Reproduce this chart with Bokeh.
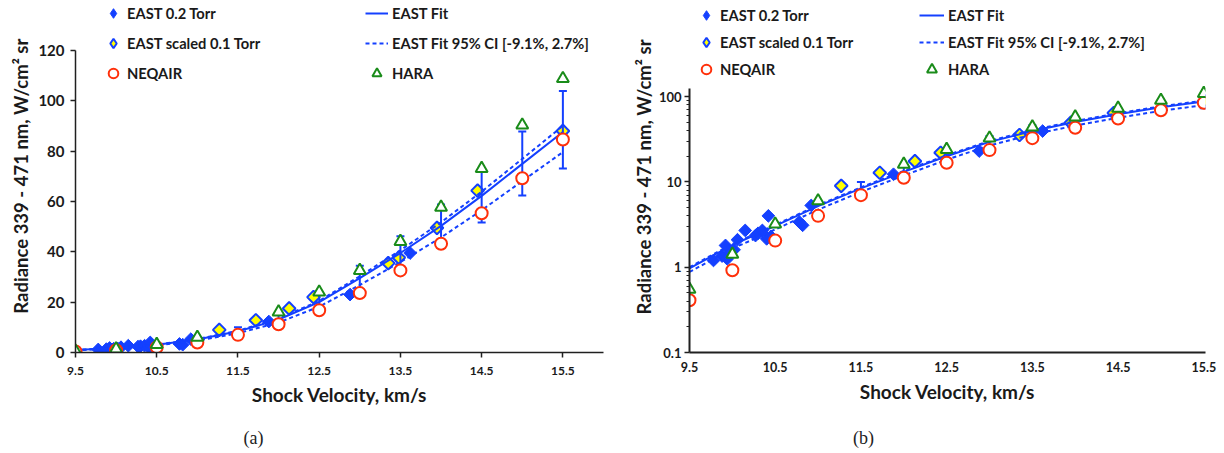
import numpy as np
from bokeh.plotting import figure
from bokeh.models import (Range1d, FixedTicker, Legend, LegendItem,
                          CustomJSTickFormatter)
from bokeh.core.properties import value
from bokeh.layouts import row, column
from bokeh.embed import file_html
from bokeh.resources import INLINE

# ---------------- data ----------------
east02_v = [9.78, 9.88, 9.92, 9.94, 9.97, 10.02, 10.06, 10.15, 10.27, 10.30,
            10.35, 10.40, 10.42, 10.45, 10.78, 10.82, 10.92, 11.88, 12.88, 13.62]
east02_r = [1.2, 1.35, 1.8, 1.25, 1.5, 1.6, 2.1, 2.7, 2.35, 2.5,
            2.7, 2.15, 4.0, 2.3, 3.4, 3.1, 5.3, 12.3, 23.0, 39.5]

scaled01_v = [11.27, 11.72, 12.13, 12.43, 13.35, 13.48, 13.95, 14.45, 15.5]
scaled01_r = [9.0, 12.8, 17.5, 22.0, 35.5, 37.7, 49.5, 64.3, 88.0]

neqair_v = [9.5, 10.0, 10.5, 11.0, 11.5, 12.0, 12.5, 13.0, 13.5, 14.0, 14.5, 15.0, 15.5]
neqair_r = [0.41, 0.92, 2.05, 4.0, 7.0, 11.2, 16.8, 23.6, 32.6, 43.2, 55.3, 69.2, 84.6]

hara_v = [9.5, 10.0, 10.5, 11.0, 12.0, 12.5, 13.0, 13.5, 14.0, 14.5, 15.0, 15.5]
hara_r = [0.55, 1.42, 3.2, 6.0, 16.1, 24.0, 32.6, 44.1, 57.7, 73.1, 90.3, 108.8]

fit_v = [9.5, 10.0, 10.5, 11.0, 11.5, 12.0, 12.5, 13.0, 13.5, 14.0, 14.5, 15.0, 15.5]
fit_r = [0.97, 1.82, 3.05, 5.2, 8.4, 13.1, 20.0, 29.5, 39.5, 50.3, 62.2, 74.9, 87.6]
fit_hi = [1.0, 1.87, 3.13, 5.34, 8.63, 13.45, 20.5, 30.3, 40.6, 51.7, 63.9, 76.9, 90.0]
fit_lo = [0.88, 1.65, 2.77, 4.73, 7.64, 11.9, 18.2, 26.8, 35.9, 45.7, 56.5, 68.1, 79.6]

err_v = [11.5, 12.0, 12.5, 13.0, 13.5, 14.0, 14.5, 15.0, 15.5]
err_lo = [7.0, 10.9, 16.6, 24.5, 32.8, 41.8, 51.6, 62.4, 73.1]
err_hi = [10.0, 15.3, 23.4, 34.5, 46.2, 58.8, 72.5, 87.8, 103.9]

x_ticks = [9.5, 10.5, 11.5, 12.5, 13.5, 14.5, 15.5]
lin_y_ticks = [0, 20, 40, 60, 80, 100, 120]
log_y_ticks = [0.1, 1, 10, 100]
log_minor = [m * d for d in (0.1, 1, 10) for m in range(2, 10)]

BLUE = "#1440ff"
RED = "#ff300a"
GREEN = "#1a8c1a"
YELLOW = "#ffff00"
FONT = "Lato"
TXT = "#1a1a1a"
YLABEL = "Radiance 339 - 471 nm, W/cm\u00b2 sr"
XLABEL = "Shock Velocity, km/s"

MAIN_H = 413   # height of the plot figures; a caption strip of 40 px sits below
CAP_H = 40
YLAB_WA = 35   # narrow strips that hold the rotated y-axis titles
YLAB_WB = 43


def style_axes(p, ytick_size, xtick_size, x_tick_out):
    p.outline_line_color = None
    p.xgrid.visible = False
    p.ygrid.visible = False
    for ax in (p.xaxis[0], p.yaxis[0]):
        ax.axis_line_color = "#202020"
        ax.axis_line_width = 1.5
        ax.major_tick_line_color = "#202020"
        ax.major_tick_line_width = 1.5
        ax.major_tick_in = 0
        ax.minor_tick_in = 0
        ax.major_label_text_font = FONT
        ax.major_label_text_font_style = "bold"
        ax.major_label_text_color = TXT
        ax.axis_label_text_font = FONT
        ax.axis_label_text_font_style = "bold"
        ax.axis_label_text_color = TXT
    p.xaxis.axis_label_text_font_size = "19px"
    p.yaxis.major_label_text_font_size = ytick_size
    p.xaxis.major_label_text_font_size = xtick_size
    p.yaxis.major_tick_out = 5
    p.xaxis.major_tick_out = x_tick_out
    p.xaxis.minor_tick_line_color = None
    p.xaxis.ticker = FixedTicker(ticks=x_ticks)
    p.xaxis.axis_label = XLABEL
    p.xaxis.major_label_standoff = 9
    p.xaxis.axis_label_standoff = 5
    p.yaxis.major_label_standoff = 6


def draw_data(p, row_pitch, col1_x, col2_x, leg_y, w2):
    p.scatter(east02_v, east02_r, marker="square", angle=np.pi / 4, size=9,
              fill_color=BLUE, line_color=BLUE, line_width=1)
    p.scatter(scaled01_v, scaled01_r, marker="square", angle=np.pi / 4, size=9,
              fill_color=YELLOW, line_color=BLUE, line_width=2)
    r_fit = p.line(fit_v, fit_r, line_color=BLUE, line_width=2)
    r_ci = p.line(fit_v, fit_hi, line_color=BLUE, line_width=2, line_dash="4 3")
    p.line(fit_v, fit_lo, line_color=BLUE, line_width=2, line_dash="4 3")
    p.segment(x0=err_v, y0=err_lo, x1=err_v, y1=err_hi, line_color=BLUE, line_width=2)
    p.scatter(err_v, err_lo, marker="dash", size=8, line_color=BLUE, line_width=2)
    p.scatter(err_v, err_hi, marker="dash", size=8, line_color=BLUE, line_width=2)
    r_neq = p.scatter(neqair_v, neqair_r, marker="circle", size=12, fill_color="white",
                      line_color=RED, line_width=2)
    r_hara = p.scatter(hara_v, hara_r, marker="triangle", size=12, fill_color="white",
                       line_color=GREEN, line_width=2)
    # legend swatches for the diamond series (a point outside the visible range)
    r_east_key = p.scatter([0.0], [1.0], marker="diamond", size=12,
                           fill_color=BLUE, line_color=BLUE, line_width=1)
    r_scaled_key = p.scatter([0.0], [1.0], marker="diamond", size=12,
                             fill_color=YELLOW, line_color=BLUE, line_width=2)

    def mk_legend(items, x, gw, standoff):
        lg = Legend(items=items, location=(x, leg_y), orientation="vertical",
                    border_line_color=None, background_fill_alpha=0, padding=0, margin=0,
                    spacing=row_pitch - 26, label_height=26, glyph_height=26,
                    glyph_width=gw, label_standoff=standoff,
                    label_text_font=FONT, label_text_font_style="bold",
                    label_text_font_size="14.7px", label_text_color=TXT)
        p.add_layout(lg)

    mk_legend([LegendItem(label="EAST 0.2 Torr", renderers=[r_east_key]),
               LegendItem(label="EAST scaled 0.1 Torr", renderers=[r_scaled_key]),
               LegendItem(label="NEQAIR", renderers=[r_neq])], col1_x, 24, 2)
    mk_legend([LegendItem(label="EAST Fit", renderers=[r_fit]),
               LegendItem(label="EAST Fit 95% CI [-9.1%, 2.7%]", renderers=[r_ci]),
               LegendItem(label="HARA", renderers=[r_hara])], col2_x, w2, 4)


def blank(width, height):
    f = figure(width=width, height=height, x_range=Range1d(0, width),
               y_range=Range1d(0, height), x_axis_type=None, y_axis_type=None,
               output_backend="svg", toolbar_location=None,
               min_border=0, outline_line_color=None)
    f.xgrid.visible = False
    f.ygrid.visible = False
    return f


def ylabel_strip(width, xc, yc):
    f = blank(width, MAIN_H)
    f.text(x=[xc], y=[MAIN_H - yc], text=[YLABEL], angle=np.pi / 2,
           text_font=value(FONT), text_font_style="bold", text_font_size="18.5px",
           text_align="center", text_baseline="middle", text_color=TXT)
    return f


def caption_strip(text, xc, yc):
    f = blank(612, CAP_H)
    f.text(x=[xc], y=[CAP_H - yc], text=[text], text_font=value("Liberation Serif"),
           text_font_size="18px", text_align="center", text_baseline="middle",
           text_color="#222222")
    return f


# ---------------- panel (a): linear ----------------
# the frame reaches the top of the figure so the legend above the 120 level stays visible
pa = figure(width=612 - YLAB_WA, height=MAIN_H, x_range=Range1d(9.5, 16.0),
            y_range=Range1d(0, 139.8), output_backend="svg", toolbar_location=None,
            min_border_left=75 - YLAB_WA, min_border_right=9, min_border_top=0,
            min_border_bottom=MAIN_H - 353)
style_axes(pa, "15px", "12px", 5)
pa.yaxis.ticker = FixedTicker(ticks=lin_y_ticks)
pa.yaxis.bounds = (0, 120)
pa.yaxis.minor_tick_line_color = None
draw_data(pa, 30, 26, 290, 353 - 87, 23)

# ---------------- panel (b): log ----------------
pb = figure(width=612 - YLAB_WB, height=MAIN_H, x_range=Range1d(9.5, 15.52),
            y_range=Range1d(0.1, 1340), y_axis_type="log", output_backend="svg",
            toolbar_location=None,
            min_border_left=77 - YLAB_WB, min_border_right=19, min_border_top=0,
            min_border_bottom=MAIN_H - 352)
style_axes(pb, "13px", "12.5px", 0)
pb.yaxis.ticker = FixedTicker(ticks=log_y_ticks, minor_ticks=log_minor)
pb.yaxis.bounds = (0.1, 126)
pb.yaxis.formatter = CustomJSTickFormatter(code="return String(tick);")
pb.yaxis.minor_tick_out = 3
pb.yaxis.minor_tick_line_color = "#202020"
pb.yaxis.major_label_standoff = 3
pb.yaxis.axis_line_width = 2
pb.xaxis.axis_line_width = 2
draw_data(pb, 27, 5, 230, 352 - 82, 25)

top = row(ylabel_strip(YLAB_WA, 20, 206), pa, ylabel_strip(YLAB_WB, 31, 207), pb)
bottom = row(caption_strip("(a)", 253, 24), caption_strip("(b)", 863 - 612, 24))
layout = column(top, bottom)
open("out.html", "w").write(file_html(layout, INLINE))
